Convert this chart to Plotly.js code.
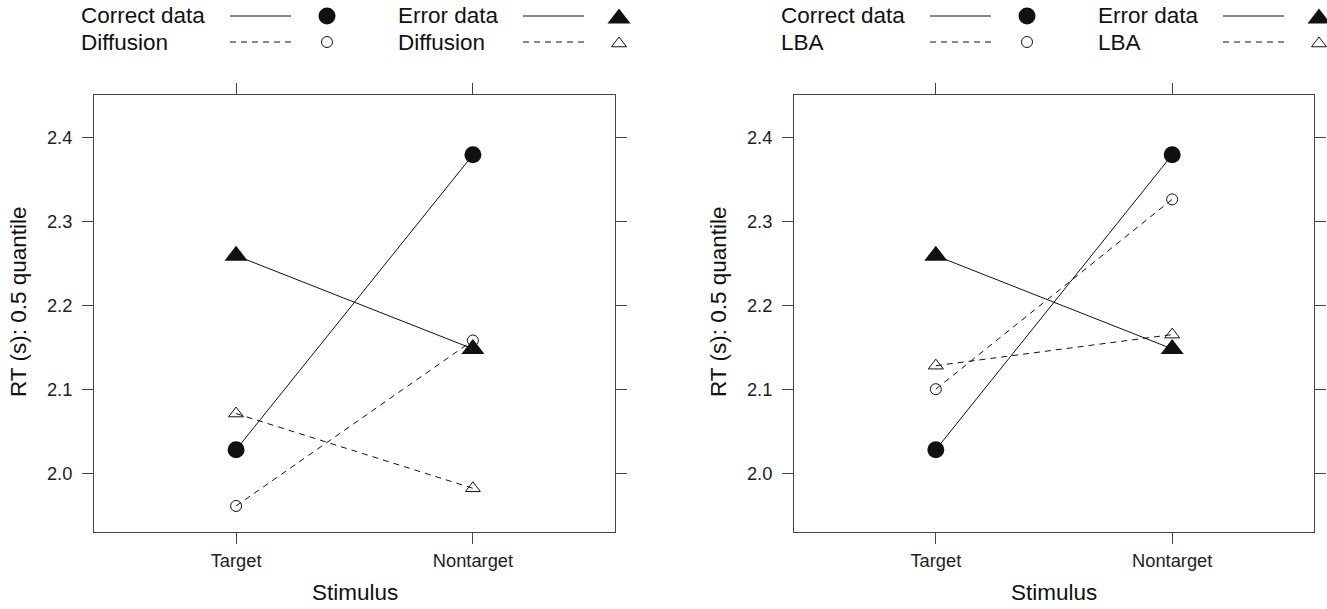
<!DOCTYPE html>
<html>
<head>
<meta charset="utf-8">
<script src="https://cdn.plot.ly/plotly-3.0.1.min.js"></script>
<style>html,body{margin:0;padding:0;background:#fff}#chart{width:1327px;height:609px}</style>
</head>
<body>
<div id="chart"></div>
<script>
// ---- data ----
const categories = ['Target', 'Nontarget'];
const correctData = [2.028, 2.379];
const errorData = [2.259, 2.148];
const diffusionCorrect = [1.961, 2.158];
const diffusionError = [2.071, 1.982];
const lbaCorrect = [2.100, 2.326];
const lbaError = [2.128, 2.165];
const yTickVals = [2.0, 2.1, 2.2, 2.3, 2.4];
const yTickText = ['2.0', '2.1', '2.2', '2.3', '2.4'];
const panelModels = ['Diffusion', 'LBA'];
const legendLabels = ['Correct data', 'Error data'];
const xTitle = 'Stimulus';
const yTitle = 'RT (s): 0.5 quantile';

// ---- styles ----
const W = 1327, H = 609;
const FONT = 'Liberation Sans, Arial, Helvetica, sans-serif';
const INK = '#111';
const FRAME = '#444';
const DASH = '6px,5px';
const LABEL_SIZE = 22.5;
const TICK_SIZE = 18.3;
const mk = {
  dataCorrect: {symbol: 'circle', size: 17, color: INK},
  dataError: {symbol: 'triangle-up', size: 20, color: INK},
  modelCorrect: {symbol: 'circle-open', size: 11, color: INK, line: {width: 1, color: INK}},
  modelError: {symbol: 'triangle-up-open', size: 13, color: INK, line: {width: 1, color: INK}}
};

const panels = [
  {xa: 'x', ya: 'y', model: diffusionCorrect, modelErr: diffusionError, left: 94, right: 615},
  {xa: 'x2', ya: 'y2', model: lbaCorrect, modelErr: lbaError, left: 794, right: 1314}
];
const plotTop = 94.7, plotBottom = 532;

const traces = [];
panels.forEach(p => {
  traces.push({x: categories, y: correctData, xaxis: p.xa, yaxis: p.ya, mode: 'lines+markers', type: 'scatter',
    line: {color: INK, width: 1}, marker: mk.dataCorrect, hoverinfo: 'skip'});
  traces.push({x: categories, y: errorData, xaxis: p.xa, yaxis: p.ya, mode: 'lines+markers', type: 'scatter',
    line: {color: INK, width: 1}, marker: mk.dataError, hoverinfo: 'skip'});
  traces.push({x: categories, y: p.model, xaxis: p.xa, yaxis: p.ya, mode: 'lines+markers', type: 'scatter',
    line: {color: INK, width: 1, dash: DASH}, marker: mk.modelCorrect, hoverinfo: 'skip'});
  traces.push({x: categories, y: p.modelErr, xaxis: p.xa, yaxis: p.ya, mode: 'lines+markers', type: 'scatter',
    line: {color: INK, width: 1, dash: DASH}, marker: mk.modelError, hoverinfo: 'skip'});
});

// ---- legend (key) drawn on an overlay pixel axis ----
const keyRows = [16, 42];
const keyCols = [
  {text: -15, line0: 136, line1: 197, marker: 233, solidMk: mk.dataCorrect, openMk: mk.modelCorrect, label: legendLabels[0]},
  {text: 302, line0: 429, line1: 490, marker: 525, solidMk: mk.dataError, openMk: mk.modelError, label: legendLabels[1]}
];
const annotations = [];
panels.forEach((p, pi) => {
  keyCols.forEach(c => {
    const tx = p.left + c.text;
    annotations.push({xref: 'paper', yref: 'paper', x: tx / W, y: 1 - keyRows[0] / H, xanchor: 'left', yanchor: 'middle',
      text: c.label, showarrow: false, font: {family: FONT, size: LABEL_SIZE, color: INK}});
    annotations.push({xref: 'paper', yref: 'paper', x: tx / W, y: 1 - keyRows[1] / H, xanchor: 'left', yanchor: 'middle',
      text: panelModels[pi], showarrow: false, font: {family: FONT, size: LABEL_SIZE, color: INK}});
    const triOff = c.solidMk.symbol.indexOf('triangle') === 0 ? 2.5 : 0;
    traces.push({x: [p.left + c.line0, p.left + c.line1], y: [keyRows[0], keyRows[0]], xaxis: 'x3', yaxis: 'y3',
      mode: 'lines', line: {color: INK, width: 1}, hoverinfo: 'skip'});
    traces.push({x: [p.left + c.line0, p.left + c.line1], y: [keyRows[1], keyRows[1]], xaxis: 'x3', yaxis: 'y3',
      mode: 'lines', line: {color: INK, width: 1, dash: DASH}, hoverinfo: 'skip'});
    traces.push({x: [p.left + c.marker], y: [keyRows[0] + triOff], xaxis: 'x3', yaxis: 'y3',
      mode: 'markers', marker: c.solidMk, hoverinfo: 'skip'});
    traces.push({x: [p.left + c.marker], y: [keyRows[1] + triOff * 0.6], xaxis: 'x3', yaxis: 'y3',
      mode: 'markers', marker: c.openMk, hoverinfo: 'skip'});
  });
  // axis titles
  annotations.push({xref: 'paper', yref: 'paper', x: ((p.left + p.right) / 2) / W, y: 1 - 592 / H,
    xanchor: 'center', yanchor: 'middle', text: xTitle, showarrow: false, font: {family: FONT, size: LABEL_SIZE, color: INK}});
  annotations.push({xref: 'paper', yref: 'paper', x: (p.left - 76) / W, y: 1 - 302 / H,
    xanchor: 'center', yanchor: 'middle', textangle: -90, text: yTitle, showarrow: false,
    font: {family: FONT, size: LABEL_SIZE, color: INK}});
});

function xAxis(p) {
  return {domain: [p.left / W, p.right / W], range: [-0.6, 1.6], type: 'category', categoryorder: 'array',
    categoryarray: categories, showgrid: false, zeroline: false, showline: true, linecolor: FRAME, linewidth: 1,
    mirror: 'ticks', ticks: 'outside', ticklen: 11, tickcolor: FRAME, tickwidth: 1,
    tickfont: {family: FONT, size: TICK_SIZE, color: '#222'}, ticklabelstandoff: 1, fixedrange: true};
}
function yAxis(p, anchor) {
  return {domain: [1 - plotBottom / H, 1 - plotTop / H], range: [1.930, 2.4506], anchor: anchor,
    tickvals: yTickVals, ticktext: yTickText, showgrid: false, zeroline: false, showline: true,
    linecolor: FRAME, linewidth: 1, mirror: 'ticks', ticks: 'outside', ticklen: 11, tickcolor: FRAME, tickwidth: 1,
    tickfont: {family: FONT, size: TICK_SIZE, color: '#222'}, ticklabelstandoff: 6, fixedrange: true};
}

const layout = {
  width: W, height: H, margin: {l: 0, r: 0, t: 0, b: 0},
  paper_bgcolor: '#fff', plot_bgcolor: 'rgba(0,0,0,0)', showlegend: false,
  xaxis: Object.assign(xAxis(panels[0]), {anchor: 'y'}),
  yaxis: yAxis(panels[0], 'x'),
  xaxis2: Object.assign(xAxis(panels[1]), {anchor: 'y2'}),
  yaxis2: yAxis(panels[1], 'x2'),
  xaxis3: {domain: [0, 1], range: [0, W], visible: false, anchor: 'y3', fixedrange: true},
  yaxis3: {domain: [0, 1], range: [H, 0], visible: false, anchor: 'x3', fixedrange: true},
  annotations: annotations
};

Plotly.newPlot('chart', traces, layout, {staticPlot: true, displayModeBar: false});
</script>
</body>
</html>
